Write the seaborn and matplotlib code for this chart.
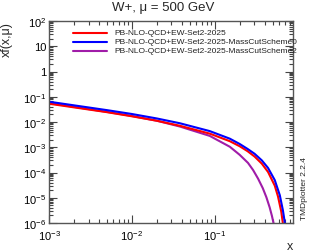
import numpy as np
import pandas as pd
import matplotlib
matplotlib.use("Agg")
import matplotlib.pyplot as plt
import seaborn as sns
from matplotlib.ticker import LogLocator, FuncFormatter, NullFormatter

# ---- data ----
labels = ["PB-NLO-QCD+EW-Set2-2025",
          "PB-NLO-QCD+EW-Set2-2025-MassCutScheme0",
          "PB-NLO-QCD+EW-Set2-2025-MassCutScheme2"]
colors = ["#ff0000", "#0000ff", "#a01ca8"]

x_red = [0.001, 0.002, 0.005, 0.01, 0.02, 0.038, 0.087, 0.152, 0.2, 0.25, 0.303, 0.37, 0.44, 0.53, 0.58, 0.635, 0.67]
logy_red = [-1.275, -1.42, -1.61, -1.774, -1.95, -2.15, -2.46, -2.76, -2.96, -3.16, -3.37, -3.65, -3.98, -4.52, -4.95, -5.55, -6.1]

x_blue = [0.001, 0.002, 0.005, 0.01, 0.02, 0.038, 0.087, 0.152, 0.2, 0.25, 0.303, 0.37, 0.44, 0.53, 0.61, 0.665, 0.71]
logy_blue = [-1.196, -1.34, -1.53, -1.683, -1.86, -2.05, -2.36, -2.66, -2.87, -3.07, -3.26, -3.52, -3.82, -4.30, -4.90, -5.50, -6.1]

x_purple = [0.001, 0.002, 0.005, 0.01, 0.02, 0.038, 0.087, 0.152, 0.2, 0.252, 0.29, 0.333, 0.38, 0.42, 0.46, 0.49, 0.52]
logy_purple = [-1.25, -1.40, -1.60, -1.76, -1.95, -2.18, -2.55, -2.98, -3.30, -3.62, -3.90, -4.24, -4.62, -4.98, -5.38, -5.72, -6.1]

title = "W+, \u03bc = 500 GeV"
ylabel = "xf(x,\u03bc)"
xlabel = "x"
side_text = "TMDplotter 2.2.4"

frames = []
for lab, xs, ly in [(labels[0], x_red, logy_red), (labels[1], x_blue, logy_blue), (labels[2], x_purple, logy_purple)]:
    frames.append(pd.DataFrame({"x": xs, "y": 10.0 ** np.array(ly), "set": lab}))
df = pd.concat(frames, ignore_index=True)

sns.set_style("ticks")
plt.rcParams["font.family"] = ["Liberation Sans", "DejaVu Sans"]
plt.rcParams["mathtext.fontset"] = "custom"
plt.rcParams["mathtext.rm"] = "Liberation Sans"
plt.rcParams["mathtext.it"] = "Liberation Sans:italic"

fig = plt.figure(figsize=(3.27, 2.53), dpi=100)
ax = fig.add_axes([49 / 327, 1 - 224 / 253, (293 - 49) / 327, (224 - 22) / 253])

order = [2, 0, 1]  # drawing order: purple below, then red, then blue
for i in order:
    sub = df[df["set"] == labels[i]]
    sns.lineplot(data=sub, x="x", y="y", color=colors[i], linewidth=1.5, ax=ax,
                 legend=False, sort=False, estimator=None)

ax.set_xscale("log")
ax.set_yscale("log")
ax.set_xlim(1e-3, 0.88)
ax.set_ylim(1e-6, 1e2)
ax.set_xlabel("")
ax.set_ylabel("")

def yfmt(v, pos):
    e = int(round(np.log10(v)))
    if e == 0:
        return "1"
    if e == 1:
        return "10"
    return r"$10^{%d}$" % e

def xfmt(v, pos):
    e = int(round(np.log10(v)))
    return r"$10^{%d}$" % e

ax.yaxis.set_major_locator(LogLocator(base=10, numticks=20))
ax.yaxis.set_minor_locator(LogLocator(base=10, subs=np.arange(2, 10), numticks=20))
ax.yaxis.set_major_formatter(FuncFormatter(yfmt))
ax.yaxis.set_minor_formatter(NullFormatter())
ax.xaxis.set_major_locator(LogLocator(base=10, numticks=20))
ax.xaxis.set_minor_locator(LogLocator(base=10, subs=np.arange(2, 10), numticks=20))
ax.xaxis.set_major_formatter(FuncFormatter(xfmt))
ax.xaxis.set_minor_formatter(NullFormatter())

ax.tick_params(which="both", direction="in", top=True, right=True, colors="#444444",
               labelcolor="black", labelsize=8, width=0.8)
ax.tick_params(which="major", length=6)
ax.tick_params(which="minor", length=3)
ax.tick_params(axis="x", which="major", pad=4)
ax.tick_params(axis="y", which="major", pad=2)
for s in ax.spines.values():
    s.set_color("#555555")
    s.set_linewidth(1.0)

# legend drawn as lines + text (text overflows the frame as in reference)
leg_y = [33.5, 42.7, 51.7]
for i in range(3):
    yf = 1 - leg_y[i] / 253
    fig.add_artist(plt.Line2D([73 / 327, 107 / 327], [yf, yf], color=colors[i], linewidth=1.5))
    fig.text(114 / 327, yf, labels[i], fontsize=6.0, va="center", ha="left", color="#222222")

fig.text(163.5 / 327, 1 - 8 / 253, title, fontsize=9.5, ha="center", va="center")
fig.text(7 / 327, 1 - 22 / 253, ylabel, fontsize=9, rotation=90, ha="center", va="top")
fig.text(290 / 327, 1 - 247 / 253, xlabel, fontsize=9, ha="center", va="center")
fig.text(305 / 327, 1 - 189 / 253, side_text, fontsize=6.0, rotation=90, ha="center", va="center",
         color="#222222")

fig.savefig("out.png", dpi=100)
